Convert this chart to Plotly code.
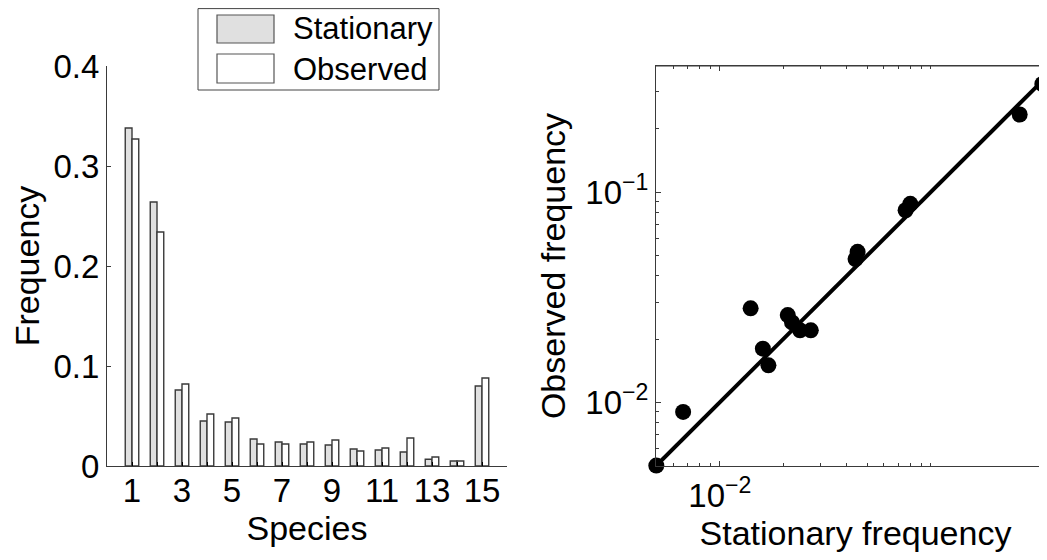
import plotly.graph_objects as go

# ---- data ----
species = list(range(1, 16))
stationary = [0.338, 0.264, 0.076, 0.045, 0.044, 0.027, 0.024, 0.022, 0.021,
              0.017, 0.016, 0.014, 0.0067, 0.005, 0.080]
observed = [0.327, 0.234, 0.082, 0.052, 0.048, 0.022, 0.022, 0.024, 0.026,
            0.015, 0.018, 0.028, 0.009, 0.005, 0.088]
species_labelled = [s for s in species if s % 2 == 1]
species_unlabelled = [s for s in species if s % 2 == 0]
freq_ticks = [0, 0.1, 0.2, 0.3, 0.4]
freq_ticktext = ["0", "0.1", "0.2", "0.3", "0.4"]
x_log_ticks = [0.01]
x_log_ticktext = ["10<sup>−2</sup>"]
y_log_ticks = [0.01, 0.1]
y_log_ticktext = ["10<sup>−2</sup>", "10<sup>−1</sup>"]
x_minor = [0.006, 0.007, 0.008, 0.009] + [k / 100 for k in range(2, 11)]
y_minor = [0.006, 0.007, 0.008, 0.009] + [k / 100 for k in range(2, 10)] + [0.2, 0.3]

W, H = 1047, 560
OFF = 8  # page body margin offset
FONT = "Liberation Sans, Arial, Helvetica, sans-serif"
AX = "#3a3a3a"

def px(x):
    return (x - OFF) / W

def py(y):
    return 1 - (y - OFF) / H

fig = go.Figure()

fig.add_trace(go.Bar(
    x=species, y=stationary, name="Stationary",
    marker=dict(color="#e0e0e0", line=dict(color="#3a3a3a", width=1.4)),
    xaxis="x", yaxis="y", showlegend=False,
))
fig.add_trace(go.Bar(
    x=species, y=observed, name="Observed",
    marker=dict(color="#ffffff", line=dict(color="#3a3a3a", width=1.4)),
    xaxis="x", yaxis="y", showlegend=False,
))

# identity line y = x across the data range
lo, hi = min(stationary), max(stationary)
fig.add_trace(go.Scatter(
    x=[lo, hi], y=[lo, hi], mode="lines",
    line=dict(color="black", width=4),
    xaxis="x2", yaxis="y2", showlegend=False, cliponaxis=False,
))
fig.add_trace(go.Scatter(
    x=stationary, y=observed, mode="markers",
    marker=dict(color="black", size=16),
    xaxis="x2", yaxis="y2", showlegend=False, cliponaxis=False,
))

ydom = [py(466), py(66)]
tickfont = dict(family=FONT, size=33, color="black")
titlefont = dict(family=FONT, size=34, color="black")

fig.update_layout(
    width=W, height=H,
    margin=dict(l=0, r=0, t=0, b=0),
    template="none",
    paper_bgcolor="white", plot_bgcolor="white",
    barmode="group", bargap=0.46, bargroupgap=0.0,
    xaxis=dict(
        domain=[px(107), px(507)], range=[0, 16],
        tickvals=species_labelled, ticktext=[str(s) for s in species_labelled],
        ticks="inside", ticklen=4, tickcolor="black", tickwidth=1,
        minor=dict(tickvals=species_unlabelled, ticks="inside", ticklen=4,
                   tickcolor="black", showgrid=False),
        ticklabelstandoff=-5,
        showline=True, linecolor=AX, linewidth=1, showgrid=False, zeroline=False,
        tickfont=tickfont, automargin=False,
        title=dict(text="Species", font=titlefont, standoff=2),
        anchor="y",
    ),
    yaxis=dict(
        domain=ydom, range=[0, 0.4],
        tickvals=freq_ticks, ticktext=freq_ticktext,
        ticks="inside", ticklen=4, tickcolor=AX, tickwidth=1,
        showline=True, linecolor=AX, linewidth=1, showgrid=False, zeroline=False,
        tickfont=tickfont, automargin=False,
        title=dict(text="Frequency", font=titlefont, standoff=4),
        anchor="x",
    ),
    xaxis2=dict(
        domain=[px(656), 1.0], type="log", range=[-2.3025, -0.411],
        tickvals=x_log_ticks, ticktext=x_log_ticktext,
        ticks="inside", ticklen=5, tickcolor=AX, tickwidth=1,
        minor=dict(tickvals=x_minor, ticks="inside", ticklen=3, tickcolor=AX, showgrid=False),
        showline=True, linecolor=AX, linewidth=1, mirror="ticks",
        showgrid=False, zeroline=False,
        tickfont=tickfont, automargin=False,
        title=dict(text="Stationary frequency", font=titlefont, standoff=4),
        anchor="y2",
    ),
    yaxis2=dict(
        domain=ydom, type="log", range=[-2.303, -0.400],
        tickvals=y_log_ticks, ticktext=y_log_ticktext,
        ticks="inside", ticklen=5, tickcolor=AX, tickwidth=1,
        minor=dict(tickvals=y_minor, ticks="inside", ticklen=3, tickcolor=AX, showgrid=False),
        showline=True, linecolor=AX, linewidth=1, mirror=False,
        showgrid=False, zeroline=False,
        tickfont=tickfont, automargin=False,
        title=dict(text="Observed frequency", font=titlefont, standoff=9),
        anchor="x2",
    ),
)

# top frame line of the scatter panel
fig.add_shape(type="line", xref="paper", yref="paper",
              x0=px(656), x1=1.0, y0=py(66), y1=py(66),
              line=dict(color=AX, width=1))

# custom legend box (large swatches as in the original)
fig.add_shape(type="rect", xref="paper", yref="paper",
              x0=px(198), x1=px(439), y0=py(90), y1=py(8.6),
              line=dict(color="#444444", width=1), fillcolor="white")
fig.add_shape(type="rect", xref="paper", yref="paper",
              x0=px(217), x1=px(274), y0=py(43), y1=py(15),
              line=dict(color="#555555", width=1.2), fillcolor="#e0e0e0")
fig.add_shape(type="rect", xref="paper", yref="paper",
              x0=px(217), x1=px(274), y0=py(83), y1=py(54),
              line=dict(color="#555555", width=1.2), fillcolor="white")
for label, yc in (("Stationary", 29), ("Observed", 69)):
    fig.add_annotation(text=label, xref="paper", yref="paper",
                       x=px(291), y=py(yc), xanchor="left", yanchor="middle",
                       showarrow=False, font=dict(family=FONT, size=31, color="black"))

fig.write_html("out.html")
